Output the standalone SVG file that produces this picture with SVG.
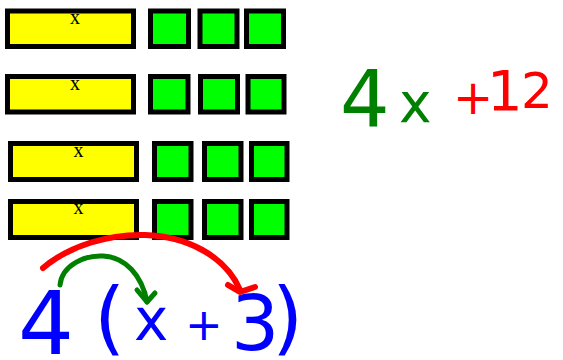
<svg xmlns="http://www.w3.org/2000/svg" width="563" height="360" viewBox="0 0 563 360">
<style>
.xb{fill:#ffff00;stroke:#000;stroke-width:5}
.one{fill:#00ff00;stroke:#000;stroke-width:5}
.lbl{font-family:"Liberation Serif","Times New Roman",serif;font-size:20px;fill:#000;text-anchor:middle}
.hw{font-family:"DejaVu Sans",sans-serif;white-space:pre}
.arr{fill:none;stroke-linecap:round;stroke-linejoin:round}
</style>
<rect width="563" height="360" fill="#fff"/>
<g id="row1">
  <g id="x1"><rect class="xb" x="7.5" y="11" width="126" height="35.5"/><text class="lbl" x="75" y="24">x</text></g>
  <g id="u1a"><rect class="one" x="150.5" y="11" width="38" height="35.5"/></g>
  <g id="u1b"><rect class="one" x="200" y="11" width="37" height="35.5"/></g>
  <g id="u1c"><rect class="one" x="246.5" y="11" width="37" height="35.5"/></g>
</g>
<g id="row2">
  <g id="x2"><rect class="xb" x="7.5" y="76.5" width="126" height="35.5"/><text class="lbl" x="75" y="90">x</text></g>
  <g id="u2a"><rect class="one" x="150.5" y="76.5" width="37.5" height="35.5"/></g>
  <g id="u2b"><rect class="one" x="200.5" y="76.5" width="37" height="35.5"/></g>
  <g id="u2c"><rect class="one" x="248" y="76.5" width="36" height="35.5"/></g>
</g>
<g id="row3">
  <g id="x3"><rect class="xb" x="10.5" y="143.5" width="126" height="36"/><text class="lbl" x="78.5" y="157">x</text></g>
  <g id="u3a"><rect class="one" x="154.5" y="143.5" width="36.5" height="36"/></g>
  <g id="u3b"><rect class="one" x="204.5" y="143.5" width="36.5" height="36"/></g>
  <g id="u3c"><rect class="one" x="251.5" y="143.5" width="35.5" height="36"/></g>
</g>
<g id="row4">
  <g id="x4"><rect class="xb" x="10.5" y="201.5" width="126" height="36"/><text class="lbl" x="78.5" y="214">x</text></g>
  <g id="u4a"><rect class="one" x="154.5" y="201.5" width="36.5" height="36"/></g>
  <g id="u4b"><rect class="one" x="204.5" y="201.5" width="36.5" height="36"/></g>
  <g id="u4c"><rect class="one" x="251.5" y="201.5" width="35.5" height="36"/></g>
</g>
<g id="expanded">
  <text class="hw"><tspan x="340" y="127" font-size="78" fill="#008000">4</tspan><tspan x="399" y="122" font-size="55" fill="#008000">x </tspan><tspan x="453" y="114" font-size="48" fill="#ff0000">+</tspan><tspan x="487" y="110" font-size="56" fill="#ff0000">1</tspan><tspan x="521" y="108" font-size="50" fill="#ff0000">2</tspan></text>
</g>
<g id="factored">
  <text class="hw" fill="#0000ff"><tspan x="18" y="354" font-size="88">4 </tspan><tspan x="94" y="345" font-size="80">(</tspan><tspan x="134" y="340" font-size="58">x </tspan><tspan x="185" y="340" font-size="45">+ </tspan><tspan x="231" y="350" font-size="76">3</tspan><tspan x="272" y="345" font-size="80">)</tspan></text>
</g>
<g id="connectors">
  <path class="arr" stroke="#ff0000" stroke-width="6" d="M43,268 C70,245 110,234 145,235 C185,236 225,255 240,290"/>
  <path class="arr" stroke="#ff0000" stroke-width="6" d="M228,285 L240,292 L255,287"/>
  <path class="arr" stroke="#008000" stroke-width="5" d="M60,285 C62,265 85,255 103,256 C125,257 142,275 147,302"/>
  <path class="arr" stroke="#008000" stroke-width="5" d="M137,290 L147,302 L155,293"/>
</g>
</svg>
